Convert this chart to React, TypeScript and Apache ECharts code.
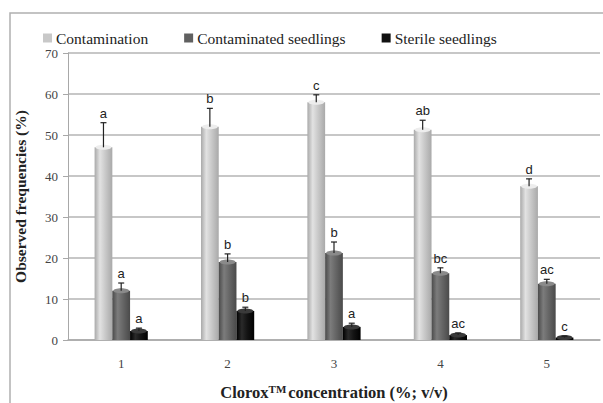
import React, { useEffect, useRef } from "react";
import * as echarts from "echarts";

// Clorox concentration levels (%; v/v)
const categories = ["1", "2", "3", "4", "5"];

// Observed frequencies (%) per series, with the upper error (SE) and letter groups
const contamination = [47, 52, 58, 51.3, 37.5];
const contaminationErr = [6, 4.5, 1.8, 2.3, 1.8];
const contaminationLetters = ["a", "b", "c", "ab", "d"];

const contaminatedSeedlings = [12, 19, 21.2, 16.3, 13.7];
const contaminatedErr = [1.9, 2.0, 2.7, 1.3, 1.1];
const contaminatedLetters = ["a", "b", "b", "bc", "ac"];

const sterileSeedlings = [2.2, 7.1, 3.2, 1.2, 0.6];
const sterileErr = [0.7, 0.9, 0.9, 0.5, 0.3];
const sterileLetters = ["a", "b", "a", "ac", "c"];

const seriesNames = ["Contamination", "Contaminated seedlings", "Sterile seedlings"];

const cyl = (edge: string, mid: string, hi: string) =>
  new echarts.graphic.LinearGradient(0, 0, 1, 0, [
    { offset: 0, color: edge },
    { offset: 0.3, color: hi },
    { offset: 0.6, color: mid },
    { offset: 1, color: edge },
  ]);

const barColors = [
  cyl("#a9a9a9", "#c9c9c9", "#e2e2e2"),
  cyl("#4a4a4a", "#666666", "#7c7c7c"),
  cyl("#000000", "#141414", "#2a2a2a"),
];
const capColors = ["#ededed", "#8a8a8a", "#3a3a3a"];
const legendColors = ["#c8c8c8", "#606060", "#111111"];

const BAR_GROUP = 0.5; // fraction of the band taken by the three bars

function errorSeries(idx: number, values: number[], errs: number[], letters: string[]) {
  return {
    type: "custom",
    name: seriesNames[idx] + " error",
    z: 5,
    silent: true,
    data: values.map((v, i) => [i, v, errs[i]]),
    renderItem: (params: any, api: any) => {
      const band = api.size([1, 0])[0];
      const bw = (band * BAR_GROUP) / 3;
      const c = api.coord([api.value(0), api.value(1)]);
      const top = api.coord([api.value(0), api.value(1) + api.value(2)]);
      const x = c[0] + (idx - 1) * bw;
      const cap = 3;
      return {
        type: "group",
        children: [
          {
            // cylinder-style top of the bar
            type: "ellipse",
            shape: { cx: x, cy: c[1], rx: bw / 2 - 1, ry: 2.5 },
            style: { fill: capColors[idx] },
          },
          {
            type: "line",
            shape: { x1: x, y1: c[1], x2: x, y2: top[1] },
            style: { stroke: "#222", lineWidth: 1.2 },
          },
          {
            type: "line",
            shape: { x1: x - cap, y1: top[1], x2: x + cap, y2: top[1] },
            style: { stroke: "#222", lineWidth: 1.2 },
          },
          {
            type: "text",
            x: x,
            y: top[1] - 3,
            style: {
              text: letters[params.dataIndex],
              fill: "#222",
              font: "13px 'Liberation Sans', Arial, sans-serif",
              align: "center",
              verticalAlign: "bottom",
            },
          },
        ],
      };
    },
  };
}

export default function App() {
  const ref = useRef<HTMLDivElement>(null);

  useEffect(() => {
    if (!ref.current) return;
    const chart = echarts.init(ref.current, undefined, { renderer: "svg" });
    const serif = "'Liberation Serif', 'DejaVu Serif', serif";
    const barSeries = [contamination, contaminatedSeedlings, sterileSeedlings].map((vals, i) => ({
      type: "bar",
      name: seriesNames[i],
      data: vals,
      barGap: "0%",
      barCategoryGap: "50%",
      itemStyle: { color: barColors[i] },
    }));
    chart.setOption({
      animation: false,
      backgroundColor: "#ffffff",
      graphic: [
        {
          type: "rect",
          shape: { x: 10, y: 13, width: 600, height: 400 },
          style: { fill: "none", stroke: "#b0b0b0", lineWidth: 1.5 },
          z: -1,
        },
      ],
      legend: {
        top: 25,
        left: 38,
        itemWidth: 9,
        itemHeight: 9,
        itemGap: 36,
        icon: "rect",
        data: seriesNames.map((n, i) => ({ name: n, itemStyle: { color: legendColors[i] } })),
        textStyle: { fontFamily: serif, fontSize: 15.5, color: "#222", padding: [0, 0, 0, -1] },
      },
      grid: { left: 68, right: 3, top: 53, bottom: 63, outerBoundsMode: "none", containLabel: false },
      xAxis: {
        type: "category",
        data: categories,
        axisLine: { lineStyle: { color: "#a8a8a8", width: 1.5 } },
        axisTick: { show: false },
        axisLabel: { fontFamily: serif, fontSize: 13, color: "#444", margin: 17 },
        name: "{a|Clorox}{s|TM}{a|concentration (%; v/v)}",
        nameLocation: "middle",
        nameGap: 43,
        nameTextStyle: {
          rich: {
            a: { fontFamily: serif, fontSize: 16.5, fontWeight: "bold", color: "#222", lineHeight: 18, verticalAlign: "bottom" },
            s: { fontFamily: serif, fontSize: 11, fontWeight: "bold", color: "#222", lineHeight: 18, verticalAlign: "top", padding: [0, 2, 0, 0] },
          },
        },
      },
      yAxis: {
        type: "value",
        min: 0,
        max: 70,
        interval: 10,
        axisLine: { show: true, lineStyle: { color: "#a8a8a8", width: 1 } },
        axisTick: { show: true, length: 5, lineStyle: { color: "#a8a8a8" } },
        splitLine: { lineStyle: { color: "#b4b4b4", width: 1.5 } },
        axisLabel: { fontFamily: serif, fontSize: 13, color: "#444", margin: 10 },
        name: "Observed frequencies (%)",
        nameLocation: "middle",
        nameGap: 40,
        nameTextStyle: { fontFamily: serif, fontSize: 15.5, fontWeight: "bold", color: "#222" },
      },
      series: [
        ...barSeries,
        errorSeries(0, contamination, contaminationErr, contaminationLetters),
        errorSeries(1, contaminatedSeedlings, contaminatedErr, contaminatedLetters),
        errorSeries(2, sterileSeedlings, sterileErr, sterileLetters),
      ],
    });
    return () => chart.dispose();
  }, []);

  return (
    <div
      ref={ref}
      style={{ position: "fixed", left: 0, top: 0, width: 603, height: 403, background: "#fff" }}
    />
  );
}
